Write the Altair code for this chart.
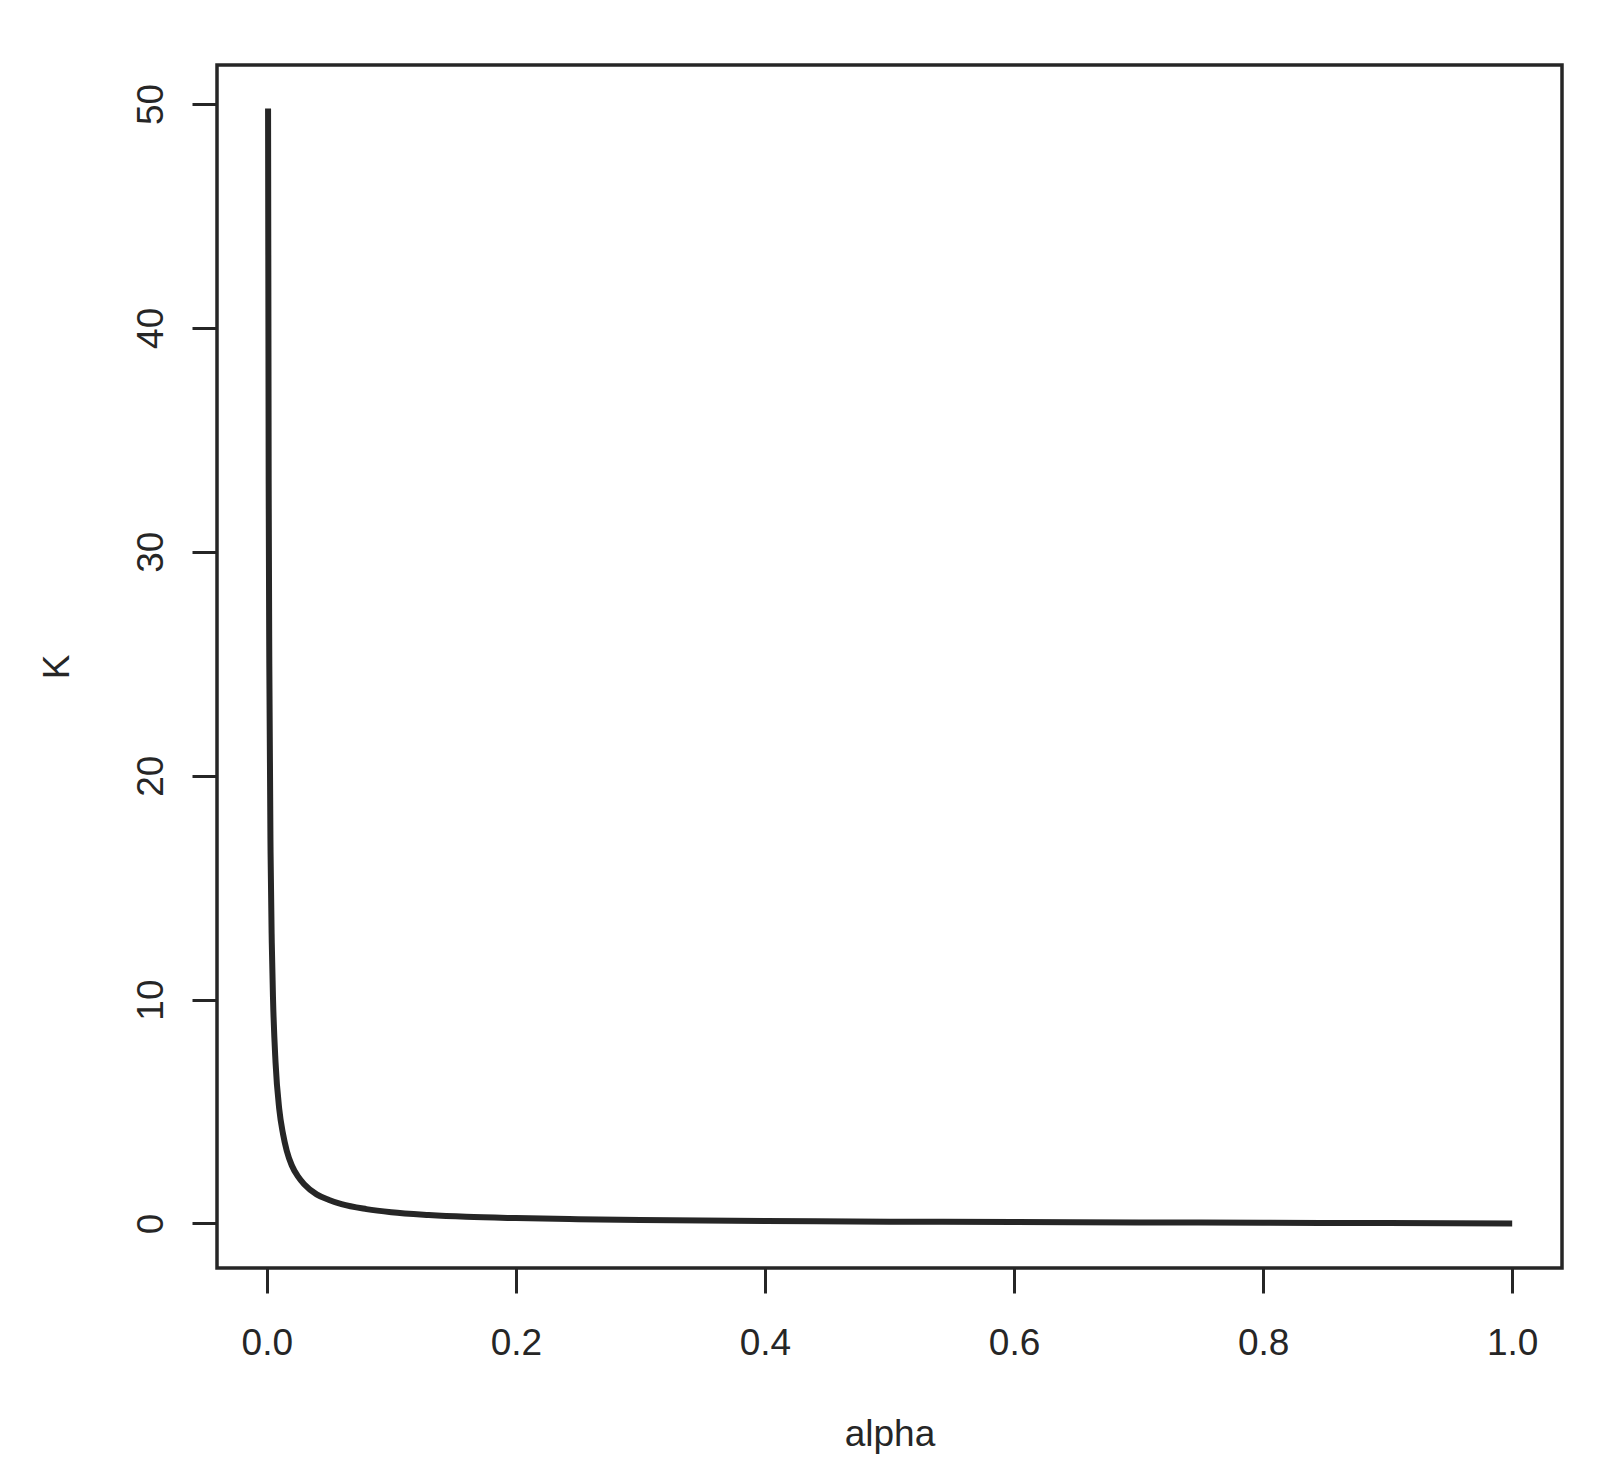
import altair as alt
import pandas as pd

# Values
alpha = [0.001, 0.0015, 0.002, 0.003, 0.004, 0.005, 0.007, 0.01, 0.013, 0.016,
         0.02, 0.025, 0.03, 0.04, 0.05, 0.06, 0.08, 0.1, 0.13, 0.16,
         0.2, 0.25, 0.3, 0.4, 0.5, 0.6, 0.7, 0.8, 0.9, 1.0]
K = [49.8, 33.0, 25.0, 16.6, 12.5, 10.0, 7.2, 5.1, 4.0, 3.25,
     2.6, 2.1, 1.75, 1.3, 1.05, 0.86, 0.64, 0.5, 0.38, 0.3,
     0.24, 0.19, 0.15, 0.11, 0.08, 0.06, 0.045, 0.03, 0.015, 0.0]

x_ticks = [0.0, 0.2, 0.4, 0.6, 0.8, 1.0]
y_ticks = [0, 10, 20, 30, 40, 50]

df = pd.DataFrame({"alpha": alpha, "K": K})

INK = "#262626"
FONT = "Liberation Sans"

chart = alt.Chart(df).mark_line(
    color=INK, strokeWidth=6, interpolate="monotone", strokeCap="butt"
).encode(
    x=alt.X("alpha:Q",
            scale=alt.Scale(domain=[-0.04, 1.04], nice=False, zero=False),
            axis=alt.Axis(values=x_ticks, format=".1f", title="alpha",
                          grid=False, domain=False, tickSize=25, tickWidth=3,
                          tickColor=INK, labelColor=INK, labelFont=FONT,
                          labelFontSize=37, labelBaseline="alphabetic",
                          labelPadding=61, labelFlush=False,
                          titleFont=FONT, titleFontSize=37, titleFontWeight="normal",
                          titleColor=INK, titleBaseline="alphabetic",
                          titleY=177, titleX=672.5)),
    y=alt.Y("K:Q",
            scale=alt.Scale(domain=[-1.99, 51.74], nice=False, zero=False),
            axis=alt.Axis(values=y_ticks, format="d", title="K",
                          grid=False, domain=False, tickSize=25, tickWidth=3,
                          tickColor=INK, labelColor=INK, labelFont=FONT,
                          labelFontSize=37, labelAngle=-90, labelAlign="center",
                          labelBaseline="alphabetic", labelPadding=30,
                          labelFlush=False,
                          titleFont=FONT, titleFontSize=37, titleFontWeight="normal",
                          titleColor=INK, titleAngle=-90, titleAlign="center",
                          titleBaseline="alphabetic", titleX=-149, titleY=601.5)),
).properties(
    width=1345,
    height=1203,
    background="white",
    autosize=alt.AutoSizeParams(type="none"),
    padding={"left": 209, "top": 57, "right": 44, "bottom": 200},
).configure_view(
    stroke=INK, strokeWidth=3.5
)

chart.save("out.html", embed_options={"renderer": "svg", "actions": False})
